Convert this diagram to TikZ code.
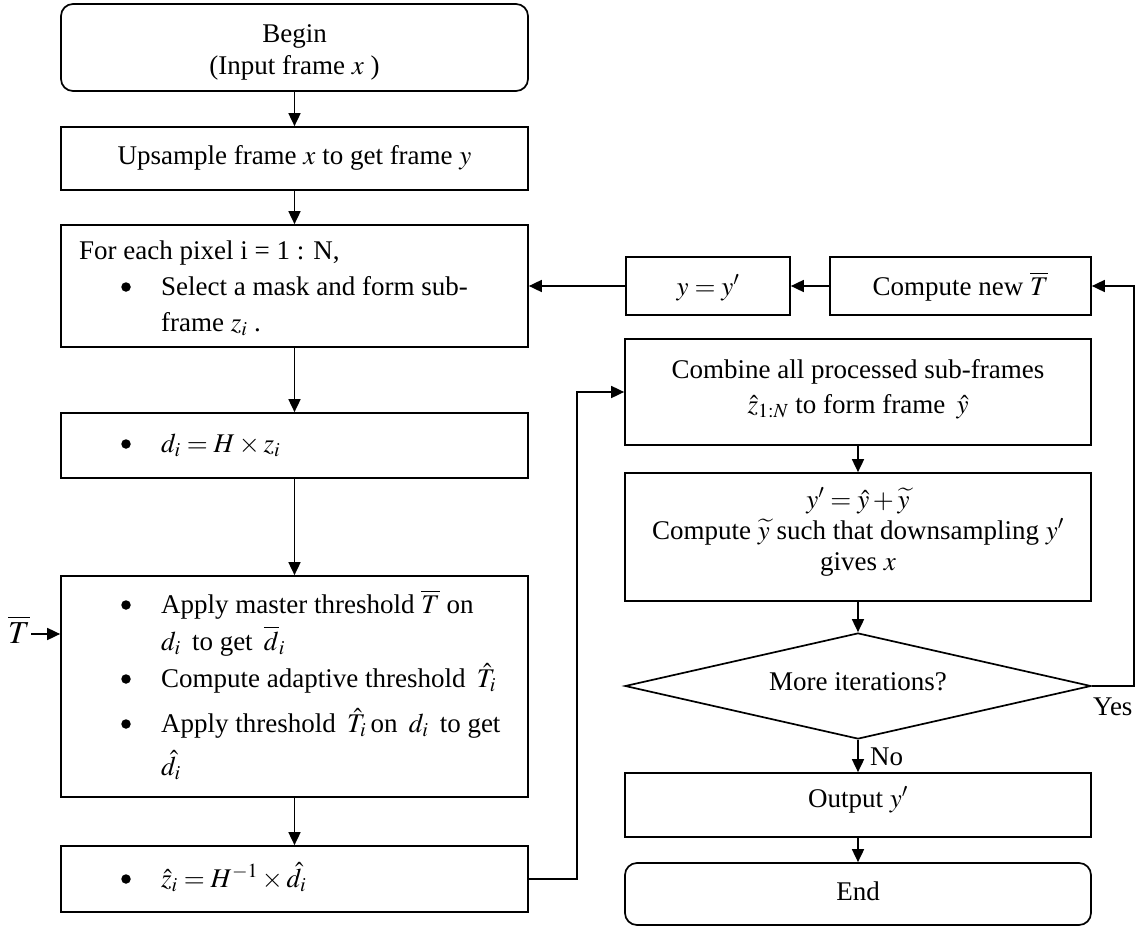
\documentclass[tikz,border=0pt]{standalone}
\usepackage{mathptmx}
\usepackage{fontspec}
\setmainfont{Liberation Serif}
\usetikzlibrary{arrows.meta,shapes.geometric,calc}
\newcommand\mlines[2]{\begin{tabular}[t]{@{}#1@{}}#2\end{tabular}}
\begin{document}
\begin{tikzpicture}[x=1pt,y=-1pt,
  every node/.style={font=\fontsize{27}{32}\selectfont},
  box/.style={draw, line width=1.7pt, inner sep=0pt},
  rbox/.style={box, rounded corners=12pt},
  dbox/.style={draw, line width=1.7pt, diamond, inner sep=0pt, shape aspect=4.4},
  tl/.style={inner sep=0pt, anchor=base west},
  tc/.style={inner sep=0pt, anchor=base},
  dot/.style={circle, fill, inner sep=0pt, minimum size=9.5pt},
  arr/.style={line width=1.7pt, -{Triangle[length=13pt,width=12pt]}},
]
\useasboundingbox (0,0) rectangle (1136,926);
% left column
\node[rbox, minimum width=467, minimum height=87] (begin) at (294.5,47.5) {};
\node[tc, font=\fontsize{27}{32}\selectfont] (begint) at (294.5,42)
  {\mlines{c}{Begin\\(Input frame $x$ )}};

\node[box, minimum width=467, minimum height=63] (up) at (294.5,158.5) {};
\node[tc] (upt) at (294.5,164) {Upsample frame $x$ to get frame $y$};

\node[box, minimum width=467, minimum height=122] (each) at (294.5,286) {};
\node[tl] (each1) at (79,259) {For each pixel i = 1 : N,};
\node[dot] (eachb) at (126,287) {};
\node[tl, font=\fontsize{27}{36}\selectfont] (each2) at (161,295)
  {\mlines{l}{Select a mask and form sub-\\frame $z_i$ .}};

\node[box, minimum width=467, minimum height=65] (di) at (294.5,445.5) {};
\node[dot] (dib) at (126,444) {};
\node[tl] (dit) at (161,452) {$d_i = H\times z_i$};

\node[box, minimum width=467, minimum height=221] (apply) at (294.5,686.5) {};
\node[dot] (ab1) at (126,605) {};
\node[dot] (ab2) at (126,679) {};
\node[dot] (ab3) at (126,724) {};
\node[tl, font=\fontsize{27}{37}\selectfont] (applyt) at (161,613)
  {\mlines{l}{Apply master threshold $\overline{T}$ on\\
   $d_i$ \,to get \,$\overline{d}_i$\\
   Compute adaptive threshold \,$\hat{T}_i$\\[8pt]
   Apply threshold \,$\hat{T}_i$\,on \,$d_i$\, to get\\[6pt]
   $\hat{d}_i$}};

\node[box, minimum width=467, minimum height=66] (zh) at (294.5,879) {};
\node[dot] (zhb) at (126,879) {};
\node[tl] (zht) at (161,887) {$\hat{z}_i = H^{-1}\times\hat{d}_i$};

\node[tc, font=\fontsize{32}{36}\selectfont] (tb) at (19,643) {$\overline{T}$};
\coordinate (tbs) at (31,634);

% right column
\node[box, minimum width=164, minimum height=58] (yy) at (708,286) {};
\node[tc] (yyt) at (708,295) {$y = y'$};
\node[box, minimum width=261, minimum height=58] (ct) at (960.5,286) {};
\node[tc] (ctt) at (960.5,295) {Compute new $\overline{T}$};

\node[box, minimum width=466, minimum height=106] (comb) at (858,392) {};
\node[tc, font=\fontsize{27}{35}\selectfont] (combt) at (858,378)
  {\mlines{c}{Combine all processed sub-frames\\$\hat{z}_{1:N}$ to form frame \,$\hat{y}$}};

\node[box, minimum width=466, minimum height=128] (yp) at (858,537) {};
\node[tc, font=\fontsize{27}{31}\selectfont] (ypt) at (858,508)
  {\mlines{c}{$y' = \hat{y} + \widetilde{y}$\\Compute $\widetilde{y}$ such that downsampling $y'$\\gives $x$}};

\node[dbox, minimum width=466, minimum height=106] (dia) at (858,686) {};
\node[tc] (diat) at (858,690) {More iterations?};

\node[box, minimum width=466, minimum height=64] (out) at (858,805) {};
\node[tc] (outt) at (858,807) {Output $y'$};

\node[rbox, minimum width=466, minimum height=62] (end) at (858,894) {};
\node[tc] (endt) at (858,900) {End};

\node[tl] (no) at (870,765) {No};
\node[tl] (yes) at (1093,715) {Yes};

% connectors
\draw[arr] (begin.south) -- (up.north);
\draw[arr] (up.south) -- (each.north);
\draw[arr] (each.south) -- (di.north);
\draw[arr] (di.south) -- (apply.north);
\draw[arr] (apply.south) -- (zh.north);
\draw[arr] (tbs) -- (tbs -| apply.west);
\draw[arr] (zh.east) -- ++(48,0) |- (comb.west);
\draw[arr] (comb.south) -- (yp.north);
\draw[arr] (yp.south) -- (dia.north);
\draw[arr] (dia.south) -- (out.north);
\draw[arr] (out.south) -- (end.north);
\draw[arr] (dia.east) -- ++(42,0) |- (ct.east);
\draw[arr] (ct.west) -- (yy.east);
\draw[arr] (yy.west) -- (yy.west -| each.east);
\end{tikzpicture}
\end{document}
